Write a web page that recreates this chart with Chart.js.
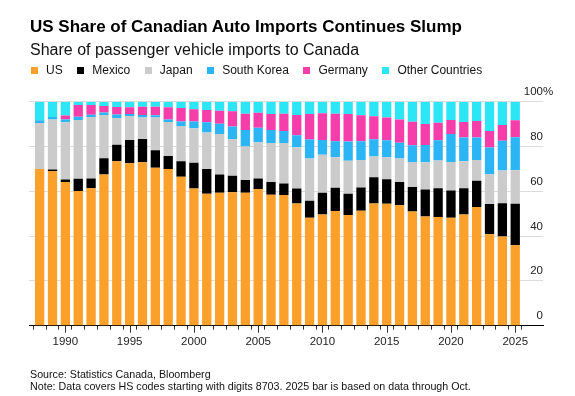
<!DOCTYPE html>
<html>
<head>
<meta charset="utf-8">
<script src="https://cdn.jsdelivr.net/npm/chart.js@4.4.1/dist/chart.umd.min.js"></script>
<style>
  html, body { margin: 0; padding: 0; background: #fff; }
  #wrap { position: relative; width: 575px; height: 396px; overflow: hidden; font-family: "Liberation Sans", Arial, sans-serif; }
  #chart { position: absolute; left: 0; top: 0; }
  .txt { position: absolute; white-space: nowrap; line-height: 1; color: #000; }
  #title { left: 30px; top: 17.9px; font-size: 17px; font-weight: bold; }
  #subtitle { left: 30px; top: 41.5px; font-size: 16px; color: #111; }
  #legend { left: 30.7px; top: 63.8px; font-size: 12px; color: #111; display: flex; }
  #legend .item { display: flex; align-items: baseline; margin-right: 14.3px; }
  #legend .sw { display: inline-block; width: 7px; height: 7px; margin-right: 8.3px; }
  #source { left: 30px; top: 368.9px; font-size: 10.7px; color: #111; }
  #note { left: 30px; top: 381.3px; font-size: 10.7px; color: #111; }
</style>
</head>
<body>
<div id="wrap">
  <canvas id="chart" width="575" height="396"></canvas>
  <div class="txt" id="title">US Share of Canadian Auto Imports Continues Slump</div>
  <div class="txt" id="subtitle">Share of passenger vehicle imports to Canada</div>
  <div class="txt" id="legend"></div>
  <div class="txt" id="source">Source: Statistics Canada, Bloomberg</div>
  <div class="txt" id="note">Note: Data covers HS codes starting with digits 8703. 2025 bar is based on data through Oct.</div>
</div>
<script>
// ---- Data (percent share of passenger vehicle imports to Canada) ----
const years = [1988,1989,1990,1991,1992,1993,1994,1995,1996,1997,1998,1999,2000,2001,2002,2003,2004,2005,2006,2007,2008,2009,2010,2011,2012,2013,2014,2015,2016,2017,2018,2019,2020,2021,2022,2023,2024,2025];
const seriesNames = ["US", "Mexico", "Japan", "South Korea", "Germany", "Other Countries"];
const us      = [69.9,69.1,64.2,60.1,61.4,67.5,73.4,72.5,73.0,70.5,69.9,66.5,61.3,58.9,59.3,59.6,59.3,61.0,58.5,58.3,54.6,48.2,49.6,51.2,49.4,51.3,54.6,54.4,53.8,51.0,48.8,48.5,48.2,49.6,53.0,40.8,39.8,35.9];
const mexico  = [0.0,0.6,1.1,5.5,4.3,7.3,7.4,10.4,10.4,7.8,5.9,6.9,11.5,11.1,8.2,7.3,5.7,4.7,5.6,5.2,6.7,7.6,9.7,10.4,9.5,10.4,11.7,11.0,10.3,10.9,12.0,12.9,12.2,11.8,11.7,13.5,14.9,18.5];
const japan   = [20.6,22.4,25.5,26.2,27.5,19.3,11.9,10.7,9.6,14.6,15.1,15.8,15.3,16.3,18.1,16.3,15.0,16.2,17.5,18.1,18.4,18.8,17.0,13.6,14.7,12.3,9.2,9.8,10.5,11.2,12.2,12.3,12.7,12.0,9.3,13.3,14.6,15.0];
const korea   = [1.2,1.1,1.2,1.5,1.0,1.1,1.6,0.9,1.1,1.0,1.2,2.0,3.1,4.5,4.6,5.7,7.4,6.5,5.8,5.3,5.3,8.5,6.6,7.1,8.6,8.3,7.7,7.6,7.1,7.5,7.7,9.1,12.5,10.6,10.0,11.9,13.3,14.7];
const germany = [0.0,0.0,1.8,5.2,4.3,2.9,3.3,3.0,3.7,3.9,5.4,6.0,5.4,5.5,5.8,6.8,7.2,6.7,7.1,7.7,9.1,11.4,11.9,12.3,12.3,11.6,10.3,10.2,10.4,10.5,9.3,7.8,6.2,6.9,7.4,7.4,7.0,7.6];
const other   = [8.3,6.8,6.2,1.5,1.5,1.9,2.4,2.5,2.2,2.2,2.5,2.8,3.4,3.7,4.0,4.3,5.4,4.9,5.5,5.4,5.9,5.5,5.2,5.4,5.5,6.1,6.5,7.0,7.9,8.9,10.0,9.4,8.2,9.1,8.6,13.1,10.4,8.3];
const yTicks = [0, 20, 40, 60, 80, 100];

// ---- Styles ----
const colors = ["#FBA12B", "#000000", "#CBCBCB", "#2BB5F5", "#F63EAA", "#2CE6F5"];
const FONT = "'Liberation Sans', Arial, sans-serif";
const seriesValues = [us, mexico, japan, korea, germany, other];

const datasets = seriesNames.map((name, i) => ({
  label: name,
  data: years.map((yr, j) => ({ x: yr, y: seriesValues[i][j] })),
  backgroundColor: colors[i],
  borderWidth: 0,
  barPercentage: 0.725,
  categoryPercentage: 1.0
}));

const extraAxisMarks = {
  id: 'extraAxisMarks',
  afterDraw(chart) {
    const ctx = chart.ctx, xs = chart.scales.x, ys = chart.scales.y, ca = chart.chartArea;
    ctx.save();
    // longer tick marks for labelled years
    ctx.strokeStyle = '#333';
    ctx.lineWidth = 1;
    years.forEach(v => {
      if (v % 5 === 0) {
        const px = Math.round(xs.getPixelForValue(v)) + 0.5;
        ctx.beginPath();
        ctx.moveTo(px, ca.bottom);
        ctx.lineTo(px, ca.bottom + 7);
        ctx.stroke();
      }
    });
    // percent sign hanging after the top label
    ctx.font = '11.5px ' + FONT;
    ctx.fillStyle = '#222';
    ctx.textAlign = 'left';
    ctx.textBaseline = 'middle';
    ctx.fillText('%', ca.right, ys.getPixelForValue(100) - 9.7);
    ctx.restore();
  }
};

const chart = new Chart(document.getElementById('chart'), {
  type: 'bar',
  data: { datasets },
  options: {
    responsive: false,
    animation: false,
    devicePixelRatio: 1,
    layout: { padding: { left: 29, right: 32, top: 101.7, bottom: 40.3 } },
    plugins: { legend: { display: false }, title: { display: false }, tooltip: { enabled: false } },
    scales: {
      x: {
        type: 'linear',
        min: 1987.17,
        max: 2027.16,
        stacked: true,
        offset: false,
        grid: { display: true, drawOnChartArea: false, drawTicks: true, tickLength: 4, tickColor: '#333', tickWidth: 1 },
        border: { display: true, color: '#000', width: 1 },
        ticks: {
          autoSkip: false, maxRotation: 0, minRotation: 0, padding: 5,
          color: '#222', font: { family: FONT, size: 11.5 },
          callback: v => (v % 5 === 0 ? String(v) : '')
        },
        afterBuildTicks: s => { s.ticks = years.map(v => ({ value: v })); },
        afterFit: s => { s.height = 30; }
      },
      y: {
        position: 'right',
        min: 0,
        max: 100,
        stacked: true,
        grid: { color: '#dcdcdc', drawTicks: false, lineWidth: 1 },
        border: { display: false },
        ticks: {
          mirror: true, padding: 0, labelOffset: -9.7,
          color: '#222', font: { family: FONT, size: 11.5 },
          callback: v => String(v)
        },
        afterBuildTicks: s => { s.ticks = yTicks.map(v => ({ value: v })); },
        afterFit: s => { s.width = 0; }
      }
    }
  },
  plugins: [extraAxisMarks]
});

// HTML legend built from the chart's datasets
const lg = document.getElementById('legend');
chart.data.datasets.forEach(ds => {
  const item = document.createElement('span');
  item.className = 'item';
  const sw = document.createElement('span');
  sw.className = 'sw';
  sw.style.background = ds.backgroundColor;
  const t = document.createElement('span');
  t.textContent = ds.label;
  item.appendChild(sw);
  item.appendChild(t);
  lg.appendChild(item);
});
</script>
</body>
</html>
